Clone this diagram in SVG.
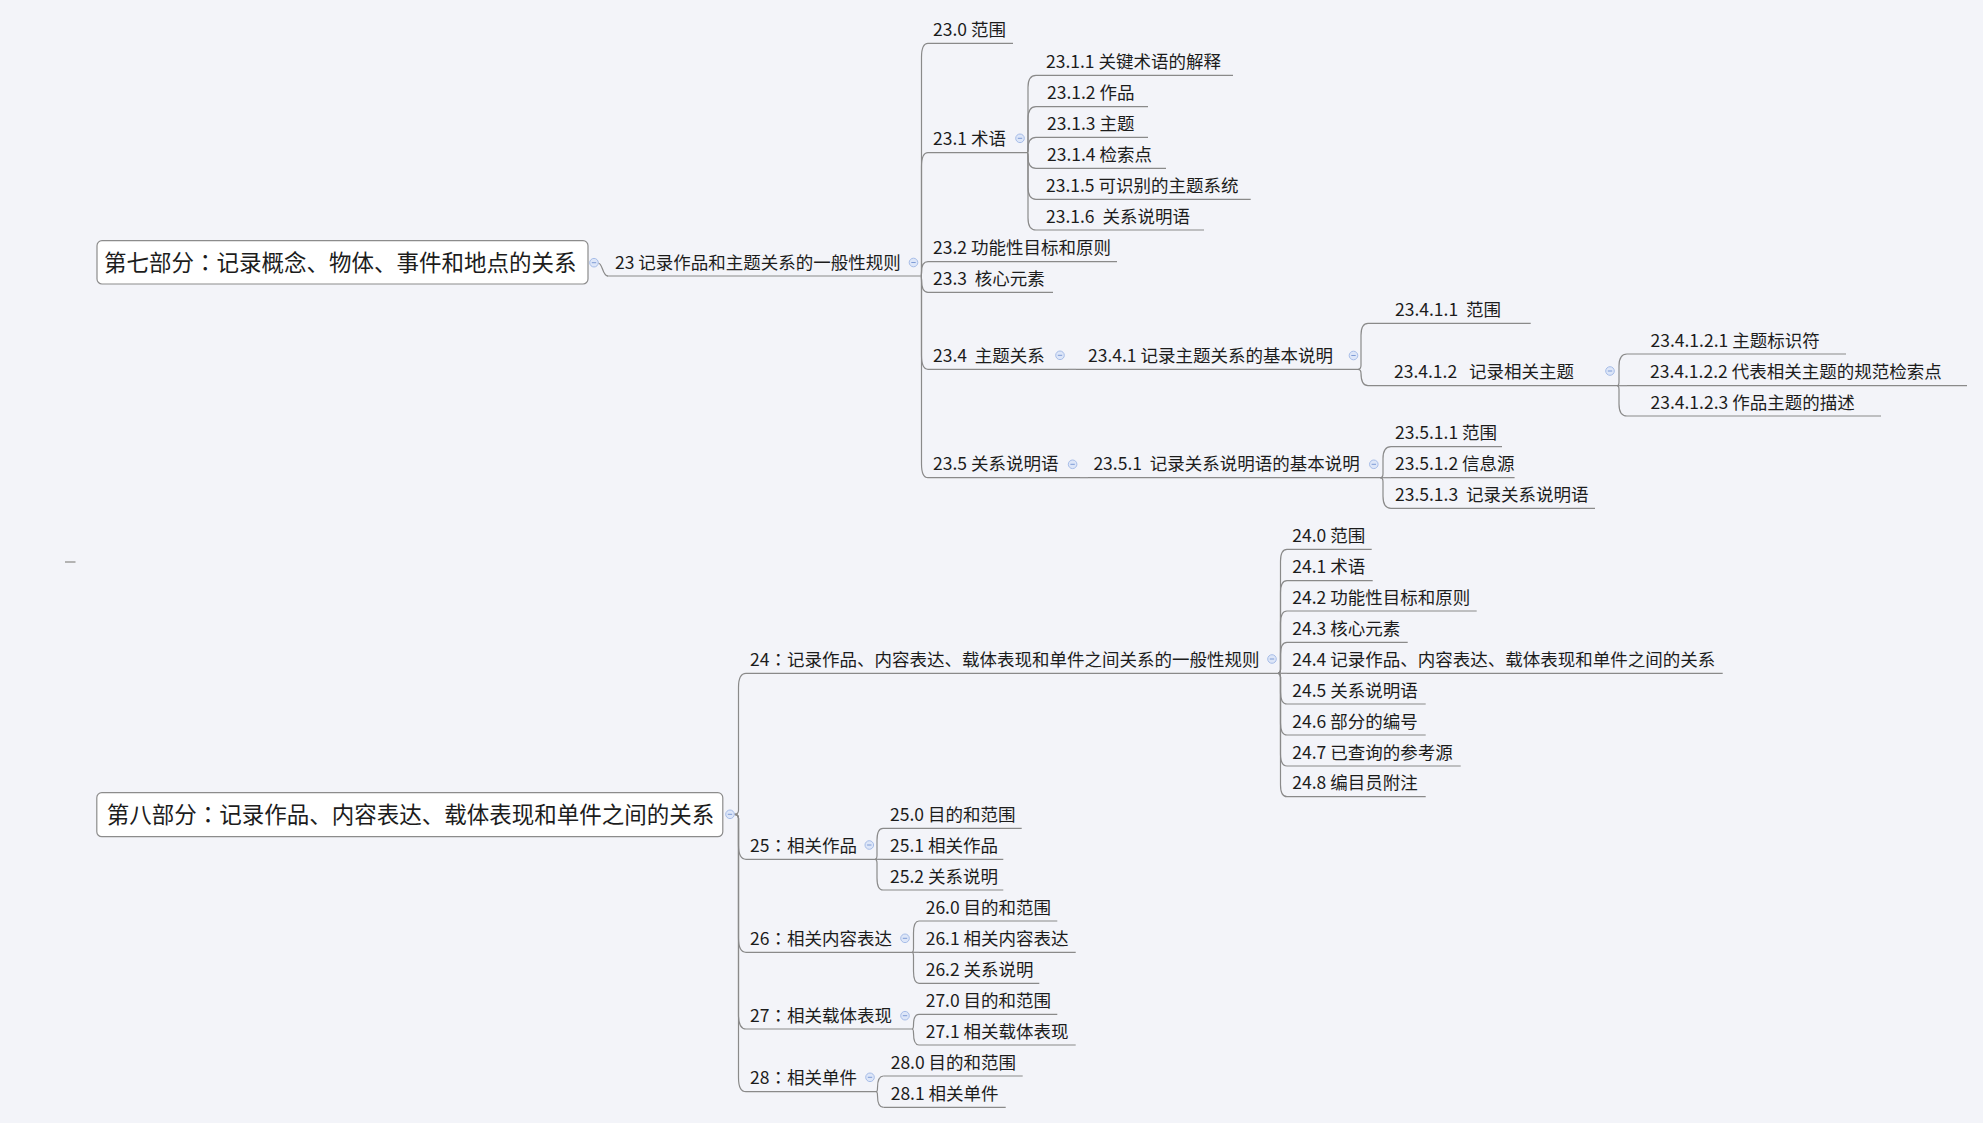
<svg xmlns="http://www.w3.org/2000/svg" xmlns:xlink="http://www.w3.org/1999/xlink" width="1983" height="1123" viewBox="0 0 1983 1123">
<style>
.bg{fill:#f3f4f9}
.t{font-family:"Noto Sans CJK SC","Noto Sans",sans-serif;font-size:17.5px;fill:#1c1c1c}
.r{font-family:"Noto Sans CJK SC","Noto Sans",sans-serif;font-size:22.5px;fill:#1c1c1c}
.p{font-family:"Noto Sans CJK TC","Noto Sans CJK SC",sans-serif}
.ul,.c{fill:none;stroke:#8a8a8a;stroke-width:1.2}
.box{fill:#ffffff;stroke:#8c8c8c;stroke-width:1.2}
</style>
<defs>
<g id="col"><circle r="4.3" fill="#dde6f8" stroke="#a7bde8" stroke-width="1"/><line x1="-2.2" y1="0" x2="2.2" y2="0" stroke="#7f9cd6" stroke-width="1"/></g>
</defs>
<rect class="bg" x="0" y="0" width="1983" height="1123"/>
<line x1="65" y1="562" x2="75.5" y2="562" stroke="#b3b3b3" stroke-width="2"/>

<g id="connectors">
<path class="c" d="M598,263 C603,263 602,276 608,276"/>
<path class="c" d="M921,276 Q921.5,276 921.5,272 V57.3 Q921.5,43.3 928,43.3"/>
<path class="c" d="M921,276 Q921.5,276 921.5,272 V166.7 Q921.5,152.7 928,152.7"/>
<path class="c" d="M921,276 Q921.5,276 921.5,272 Q921.5,261.7 928,261.7"/>
<path class="c" d="M921,276 Q921.5,276 921.5,280 Q921.5,292.3 928,292.3"/>
<path class="c" d="M921,276 Q921.5,276 921.5,280 V355.3 Q921.5,369.3 928,369.3"/>
<path class="c" d="M921,276 Q921.5,276 921.5,280 V463.7 Q921.5,477.7 928,477.7"/>
<path class="c" d="M1027.5,152.7 Q1028,152.7 1028,148.7 V87.3 Q1028,75.3 1036,75.3"/>
<path class="c" d="M1027.5,152.7 Q1028,152.7 1028,148.7 V118.7 Q1028,106.7 1036,106.7"/>
<path class="c" d="M1027.5,152.7 Q1028,152.7 1028,148.7 Q1028,137.3 1036,137.3"/>
<path class="c" d="M1027.5,152.7 Q1028,152.7 1028,156.7 Q1028,168.3 1036,168.3"/>
<path class="c" d="M1027.5,152.7 Q1028,152.7 1028,156.7 V187.3 Q1028,199.3 1036,199.3"/>
<path class="c" d="M1027.5,152.7 Q1028,152.7 1028,156.7 V218 Q1028,230 1036,230"/>
<path class="c" d="M1068,369.3 H1076"/>
<path class="c" d="M1358,369.3 Q1361,369.3 1361,365.3 V335.3 Q1361,323.3 1368,323.3"/>
<path class="c" d="M1358,369.3 Q1361,369.3 1361,373.3 Q1361,385.7 1368,385.7"/>
<path class="c" d="M1617,385.7 Q1619,385.7 1619,381.7 V366 Q1619,354 1627,354"/>
<path class="c" d="M1617,385.7 H1627"/>
<path class="c" d="M1617,385.7 Q1619,385.7 1619,389.7 V404 Q1619,416 1627,416"/>
<path class="c" d="M1080,477.7 H1088"/>
<path class="c" d="M1380,477.7 Q1383,477.7 1383,473.7 V458.7 Q1383,446.7 1391,446.7"/>
<path class="c" d="M1380,477.7 H1391"/>
<path class="c" d="M1380,477.7 Q1383,477.7 1383,481.7 V496.3 Q1383,508.3 1391,508.3"/>

<path class="c" d="M734.5,814.3 Q738.5,814.3 738.5,810.3 V687.3 Q738.5,673.3 746,673.3"/>
<path class="c" d="M734.5,814.3 Q738.5,814.3 738.5,818.3 V845.3 Q738.5,859.3 746,859.3"/>
<path class="c" d="M734.5,814.3 Q738.5,814.3 738.5,818.3 V938.3 Q738.5,952.3 746,952.3"/>
<path class="c" d="M734.5,814.3 Q738.5,814.3 738.5,818.3 V1015 Q738.5,1029 746,1029"/>
<path class="c" d="M734.5,814.3 Q738.5,814.3 738.5,818.3 V1077.7 Q738.5,1091.7 746,1091.7"/>
<path class="c" d="M1278,673.3 Q1280.5,673.3 1280.5,669.3 V561.3 Q1280.5,549.3 1287,549.3"/>
<path class="c" d="M1278,673.3 Q1280.5,673.3 1280.5,669.3 V592.7 Q1280.5,580.7 1287,580.7"/>
<path class="c" d="M1278,673.3 Q1280.5,673.3 1280.5,669.3 V623 Q1280.5,611 1287,611"/>
<path class="c" d="M1278,673.3 Q1280.5,673.3 1280.5,669.3 V654.3 Q1280.5,642.3 1287,642.3"/>
<path class="c" d="M1278,673.3 H1287"/>
<path class="c" d="M1278,673.3 Q1280.5,673.3 1280.5,677.3 V692 Q1280.5,704 1287,704"/>
<path class="c" d="M1278,673.3 Q1280.5,673.3 1280.5,677.3 V723 Q1280.5,735 1287,735"/>
<path class="c" d="M1278,673.3 Q1280.5,673.3 1280.5,677.3 V754 Q1280.5,766 1287,766"/>
<path class="c" d="M1278,673.3 Q1280.5,673.3 1280.5,677.3 V784.7 Q1280.5,796.7 1287,796.7"/>
<path class="c" d="M875,859.3 Q877,859.3 877,855.3 V840.3 Q877,828.3 883,828.3"/>
<path class="c" d="M875,859.3 H883"/>
<path class="c" d="M875,859.3 Q877,859.3 877,863.3 V878 Q877,890 883,890"/>
<path class="c" d="M912,952.3 Q913.5,952.3 913.5,948.3 V933 Q913.5,921 919,921"/>
<path class="c" d="M912,952.3 H919"/>
<path class="c" d="M912,952.3 Q913.5,952.3 913.5,956.3 V971.3 Q913.5,983.3 919,983.3"/>
<path class="c" d="M912,1029 Q913.5,1029 913.5,1025 Q913.5,1014.3 919,1014.3"/>
<path class="c" d="M912,1029 Q913.5,1029 913.5,1033 Q913.5,1045 919,1045"/>
<path class="c" d="M876,1091.7 Q877.5,1091.7 877.5,1087.7 Q877.5,1076 883.5,1076"/>
<path class="c" d="M876,1091.7 Q877.5,1091.7 877.5,1095.7 Q877.5,1107.3 883.5,1107.3"/>
</g>

<g id="root7"><rect class="box" x="97" y="240.7" width="491" height="43.3" rx="5"/><text class="r" x="104" y="271">第七部分<tspan class="p">：</tspan>记录概念、物体、事件和地点的关系</text><use href="#col" x="594" y="262.7"/></g>
<g id="n23"><text class="t" x="615" y="268.5">23 记录作品和主题关系的一般性规则</text><line class="ul" x1="607" y1="276" x2="921" y2="276"/><use href="#col" x="913.5" y="262.5"/></g>
<g id="n23-0"><text class="t" x="933" y="35.8">23.0 范围</text><line class="ul" x1="928" y1="43.3" x2="1013" y2="43.3"/></g>
<g id="n23-1"><text class="t" x="933" y="145.2">23.1 术语</text><line class="ul" x1="928" y1="152.7" x2="1027.5" y2="152.7"/><use href="#col" x="1020" y="138.3"/></g>
<g id="n23-1-1"><text class="t" x="1046" y="67.8">23.1.1 关键术语的解释</text><line class="ul" x1="1036" y1="75.3" x2="1233" y2="75.3"/></g>
<g id="n23-1-2"><text class="t" x="1047" y="99.2">23.1.2 作品</text><line class="ul" x1="1036" y1="106.7" x2="1148" y2="106.7"/></g>
<g id="n23-1-3"><text class="t" x="1047" y="129.8">23.1.3 主题</text><line class="ul" x1="1036" y1="137.3" x2="1148" y2="137.3"/></g>
<g id="n23-1-4"><text class="t" x="1047" y="160.8">23.1.4 检索点</text><line class="ul" x1="1036" y1="168.3" x2="1166" y2="168.3"/></g>
<g id="n23-1-5"><text class="t" x="1046" y="191.8">23.1.5 可识别的主题系统</text><line class="ul" x1="1036" y1="199.3" x2="1250.7" y2="199.3"/></g>
<g id="n23-1-6"><text class="t" x="1046" y="222.5">23.1.6 &#160;关系说明语</text><line class="ul" x1="1036" y1="230" x2="1204" y2="230"/></g>
<g id="n23-2"><text class="t" x="933" y="254.2">23.2 功能性目标和原则</text><line class="ul" x1="928" y1="261.7" x2="1117" y2="261.7"/></g>
<g id="n23-3"><text class="t" x="933" y="284.8">23.3 &#160;核心元素</text><line class="ul" x1="928" y1="292.3" x2="1053" y2="292.3"/></g>
<g id="n23-4"><text class="t" x="933" y="361.8">23.4 &#160;主题关系</text><line class="ul" x1="928" y1="369.3" x2="1068" y2="369.3"/><use href="#col" x="1060" y="355.3"/></g>
<g id="n23-4-1"><text class="t" x="1088" y="361.8">23.4.1 记录主题关系的基本说明</text><line class="ul" x1="1076" y1="369.3" x2="1358" y2="369.3"/><use href="#col" x="1353.5" y="355.5"/></g>
<g id="n23-4-1-1"><text class="t" x="1395" y="315.8">23.4.1.1 &#160;范围</text><line class="ul" x1="1368" y1="323.3" x2="1530.7" y2="323.3"/></g>
<g id="n23-4-1-2"><text class="t" x="1394" y="378.2">23.4.1.2 &#160;&#160;记录相关主题</text><line class="ul" x1="1368" y1="385.7" x2="1617" y2="385.7"/><use href="#col" x="1610" y="371"/></g>
<g id="n23-4-1-2-1"><text class="t" x="1650.5" y="346.5">23.4.1.2.1 主题标识符</text><line class="ul" x1="1627" y1="354" x2="1846" y2="354"/></g>
<g id="n23-4-1-2-2"><text class="t" x="1650" y="378.2">23.4.1.2.2 代表相关主题的规范检索点</text><line class="ul" x1="1627" y1="385.7" x2="1967" y2="385.7"/></g>
<g id="n23-4-1-2-3"><text class="t" x="1650.5" y="408.5">23.4.1.2.3 作品主题的描述</text><line class="ul" x1="1627" y1="416" x2="1881" y2="416"/></g>
<g id="n23-5"><text class="t" x="933" y="470.2">23.5 关系说明语</text><line class="ul" x1="928" y1="477.7" x2="1080" y2="477.7"/><use href="#col" x="1072.6" y="464.3"/></g>
<g id="n23-5-1"><text class="t" x="1093.4" y="470.2">23.5.1 &#160;记录关系说明语的基本说明</text><line class="ul" x1="1088" y1="477.7" x2="1380" y2="477.7"/><use href="#col" x="1373.8" y="464.3"/></g>
<g id="n23-5-1-1"><text class="t" x="1395" y="439.2">23.5.1.1 范围</text><line class="ul" x1="1391" y1="446.7" x2="1502" y2="446.7"/></g>
<g id="n23-5-1-2"><text class="t" x="1395" y="470.2">23.5.1.2 信息源</text><line class="ul" x1="1391" y1="477.7" x2="1514.6" y2="477.7"/></g>
<g id="n23-5-1-3"><text class="t" x="1395" y="500.8">23.5.1.3 &#160;记录关系说明语</text><line class="ul" x1="1391" y1="508.3" x2="1595" y2="508.3"/></g>

<g id="root8"><rect class="box" x="96.8" y="792.7" width="626" height="44" rx="5"/><text class="r" x="106.8" y="823">第八部分<tspan class="p">：</tspan>记录作品、内容表达、载体表现和单件之间的关系</text><use href="#col" x="730" y="814.3"/></g>
<g id="n24"><text class="t" x="750" y="665.8">24<tspan class="p">：</tspan>记录作品、内容表达、载体表现和单件之间关系的一般性规则</text><line class="ul" x1="746" y1="673.3" x2="1278" y2="673.3"/><use href="#col" x="1272" y="659"/></g>
<g id="n24-0"><text class="t" x="1292.3" y="541.8">24.0 范围</text><line class="ul" x1="1287" y1="549.3" x2="1371.7" y2="549.3"/></g>
<g id="n24-1"><text class="t" x="1292.3" y="573.2">24.1 术语</text><line class="ul" x1="1287" y1="580.7" x2="1372.7" y2="580.7"/></g>
<g id="n24-2"><text class="t" x="1292.3" y="603.5">24.2 功能性目标和原则</text><line class="ul" x1="1287" y1="611" x2="1476.7" y2="611"/></g>
<g id="n24-3"><text class="t" x="1292.3" y="634.8">24.3 核心元素</text><line class="ul" x1="1287" y1="642.3" x2="1407.7" y2="642.3"/></g>
<g id="n24-4"><text class="t" x="1292.3" y="665.8">24.4 记录作品、内容表达、载体表现和单件之间的关系</text><line class="ul" x1="1287" y1="673.3" x2="1722.7" y2="673.3"/></g>
<g id="n24-5"><text class="t" x="1292.3" y="696.5">24.5 关系说明语</text><line class="ul" x1="1287" y1="704" x2="1425.7" y2="704"/></g>
<g id="n24-6"><text class="t" x="1292.3" y="727.5">24.6 部分的编号</text><line class="ul" x1="1287" y1="735" x2="1425.7" y2="735"/></g>
<g id="n24-7"><text class="t" x="1292.3" y="758.5">24.7 已查询的参考源</text><line class="ul" x1="1287" y1="766" x2="1460.7" y2="766"/></g>
<g id="n24-8"><text class="t" x="1292.3" y="789.2">24.8 编目员附注</text><line class="ul" x1="1287" y1="796.7" x2="1425.7" y2="796.7"/></g>
<g id="n25"><text class="t" x="750" y="851.8">25<tspan class="p">：</tspan>相关作品</text><line class="ul" x1="746" y1="859.3" x2="875" y2="859.3"/><use href="#col" x="869.3" y="845"/></g>
<g id="n25-0"><text class="t" x="890" y="820.8">25.0 目的和范围</text><line class="ul" x1="883" y1="828.3" x2="1021.7" y2="828.3"/></g>
<g id="n25-1"><text class="t" x="890" y="851.8">25.1 相关作品</text><line class="ul" x1="883" y1="859.3" x2="1003.3" y2="859.3"/></g>
<g id="n25-2"><text class="t" x="890" y="882.5">25.2 关系说明</text><line class="ul" x1="883" y1="890" x2="1003.3" y2="890"/></g>
<g id="n26"><text class="t" x="750" y="944.8">26<tspan class="p">：</tspan>相关内容表达</text><line class="ul" x1="746" y1="952.3" x2="912" y2="952.3"/><use href="#col" x="905" y="938.3"/></g>
<g id="n26-0"><text class="t" x="925.7" y="913.5">26.0 目的和范围</text><line class="ul" x1="919" y1="921" x2="1057.3" y2="921"/></g>
<g id="n26-1"><text class="t" x="925.7" y="944.8">26.1 相关内容表达</text><line class="ul" x1="919" y1="952.3" x2="1075.7" y2="952.3"/></g>
<g id="n26-2"><text class="t" x="925.7" y="975.8">26.2 关系说明</text><line class="ul" x1="919" y1="983.3" x2="1039.3" y2="983.3"/></g>
<g id="n27"><text class="t" x="750" y="1021.5">27<tspan class="p">：</tspan>相关载体表现</text><line class="ul" x1="746" y1="1029" x2="912" y2="1029"/><use href="#col" x="905" y="1015.7"/></g>
<g id="n27-0"><text class="t" x="925.7" y="1006.8">27.0 目的和范围</text><line class="ul" x1="919" y1="1014.3" x2="1057.3" y2="1014.3"/></g>
<g id="n27-1"><text class="t" x="925.7" y="1037.5">27.1 相关载体表现</text><line class="ul" x1="919" y1="1045" x2="1075.7" y2="1045"/></g>
<g id="n28"><text class="t" x="750" y="1084.2">28<tspan class="p">：</tspan>相关单件</text><line class="ul" x1="746" y1="1091.7" x2="876" y2="1091.7"/><use href="#col" x="870" y="1077.3"/></g>
<g id="n28-0"><text class="t" x="890.7" y="1068.5">28.0 目的和范围</text><line class="ul" x1="883.5" y1="1076" x2="1022.7" y2="1076"/></g>
<g id="n28-1"><text class="t" x="890.7" y="1099.8">28.1 相关单件</text><line class="ul" x1="883.5" y1="1107.3" x2="1005.7" y2="1107.3"/></g>
</svg>
